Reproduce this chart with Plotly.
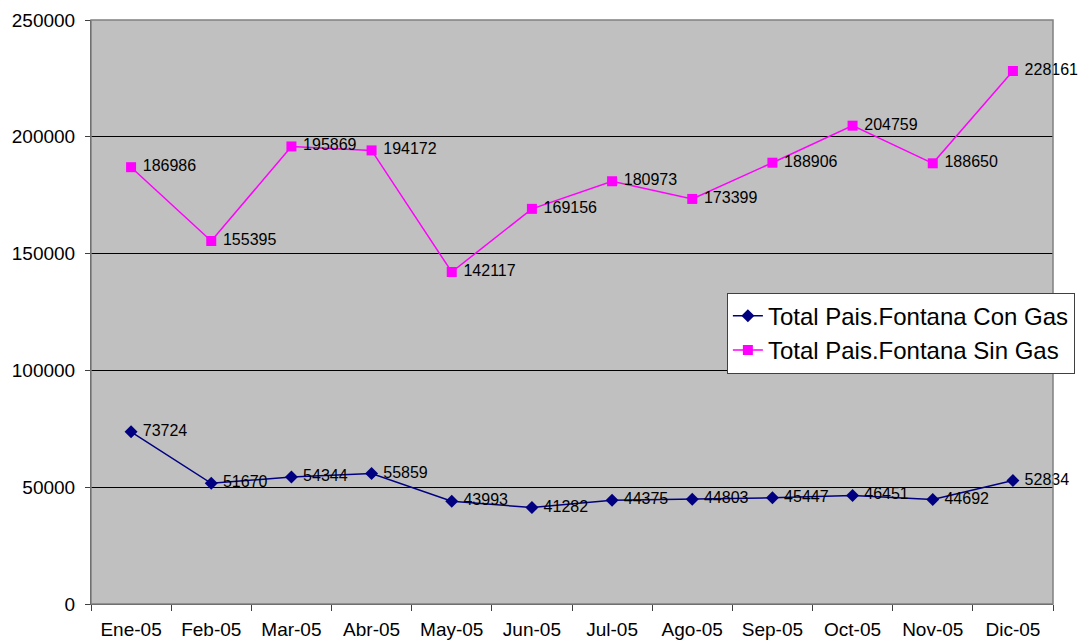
import plotly.graph_objects as go

months = ["Ene-05", "Feb-05", "Mar-05", "Abr-05", "May-05", "Jun-05",
          "Jul-05", "Ago-05", "Sep-05", "Oct-05", "Nov-05", "Dic-05"]
con_gas = [73724, 51670, 54344, 55859, 43993, 41282, 44375, 44803, 45447, 46451, 44692, 52834]
sin_gas = [186986, 155395, 195869, 194172, 142117, 169156, 180973, 173399, 188906, 204759, 188650, 228161]
y_ticks = [0, 50000, 100000, 150000, 200000, 250000]

FONT = "Arial, Liberation Sans, sans-serif"

fig = go.Figure()
fig.add_trace(go.Scatter(
    x=months, y=con_gas, name="Total Pais.Fontana Con Gas",
    mode="lines+markers+text", text=[" " + str(v) for v in con_gas],
    textposition="middle right", cliponaxis=False,
    textfont=dict(family=FONT, size=16, color="black"),
    line=dict(color="#000080", width=1.5),
    marker=dict(symbol="diamond", size=10, color="#000080"),
))
fig.add_trace(go.Scatter(
    x=months, y=sin_gas, name="Total Pais.Fontana Sin Gas",
    mode="lines+markers+text", text=[" " + str(v) for v in sin_gas],
    textposition="middle right", cliponaxis=False,
    textfont=dict(family=FONT, size=16, color="black"),
    line=dict(color="#FF00FF", width=1.5),
    marker=dict(symbol="square", size=10, color="#FF00FF"),
))

fig.update_layout(
    width=1080, height=633,
    margin=dict(l=83, r=35, t=12, b=37, autoexpand=False),
    paper_bgcolor="white", plot_bgcolor="#C0C0C0",
    font=dict(family=FONT, size=19, color="black"),
    showlegend=True,
    legend=dict(
        x=0.661, y=0.533, xanchor="left", yanchor="top",
        bgcolor="white", bordercolor="#404040", borderwidth=1,
        font=dict(family=FONT, size=24, color="black"),
        itemwidth=30, tracegroupgap=0,
    ),
)
fig.update_xaxes(
    type="category", tickson="boundaries", ticks="outside", ticklen=6,
    tickcolor="#404040", showline=True, linecolor="#404040", linewidth=1,
    showgrid=False, ticklabelstandoff=8, automargin=False,
    tickfont=dict(family=FONT, size=19), range=[-0.5, 11.5],
)
fig.update_yaxes(
    range=[0, 250000], tickvals=y_ticks, ticktext=[str(v) for v in y_ticks],
    ticks="outside", ticklen=5, tickcolor="#404040",
    showline=True, linecolor="#404040", linewidth=1,
    showgrid=True, gridcolor="black", gridwidth=1, zeroline=False,
    tickfont=dict(family=FONT, size=19), ticklabelstandoff=6, automargin=False,
)
fig.add_shape(type="rect", xref="paper", yref="paper", x0=0, x1=1, y0=0, y1=1,
              line=dict(color="#808080", width=1.5), layer="above")

fig.write_html("out.html")
